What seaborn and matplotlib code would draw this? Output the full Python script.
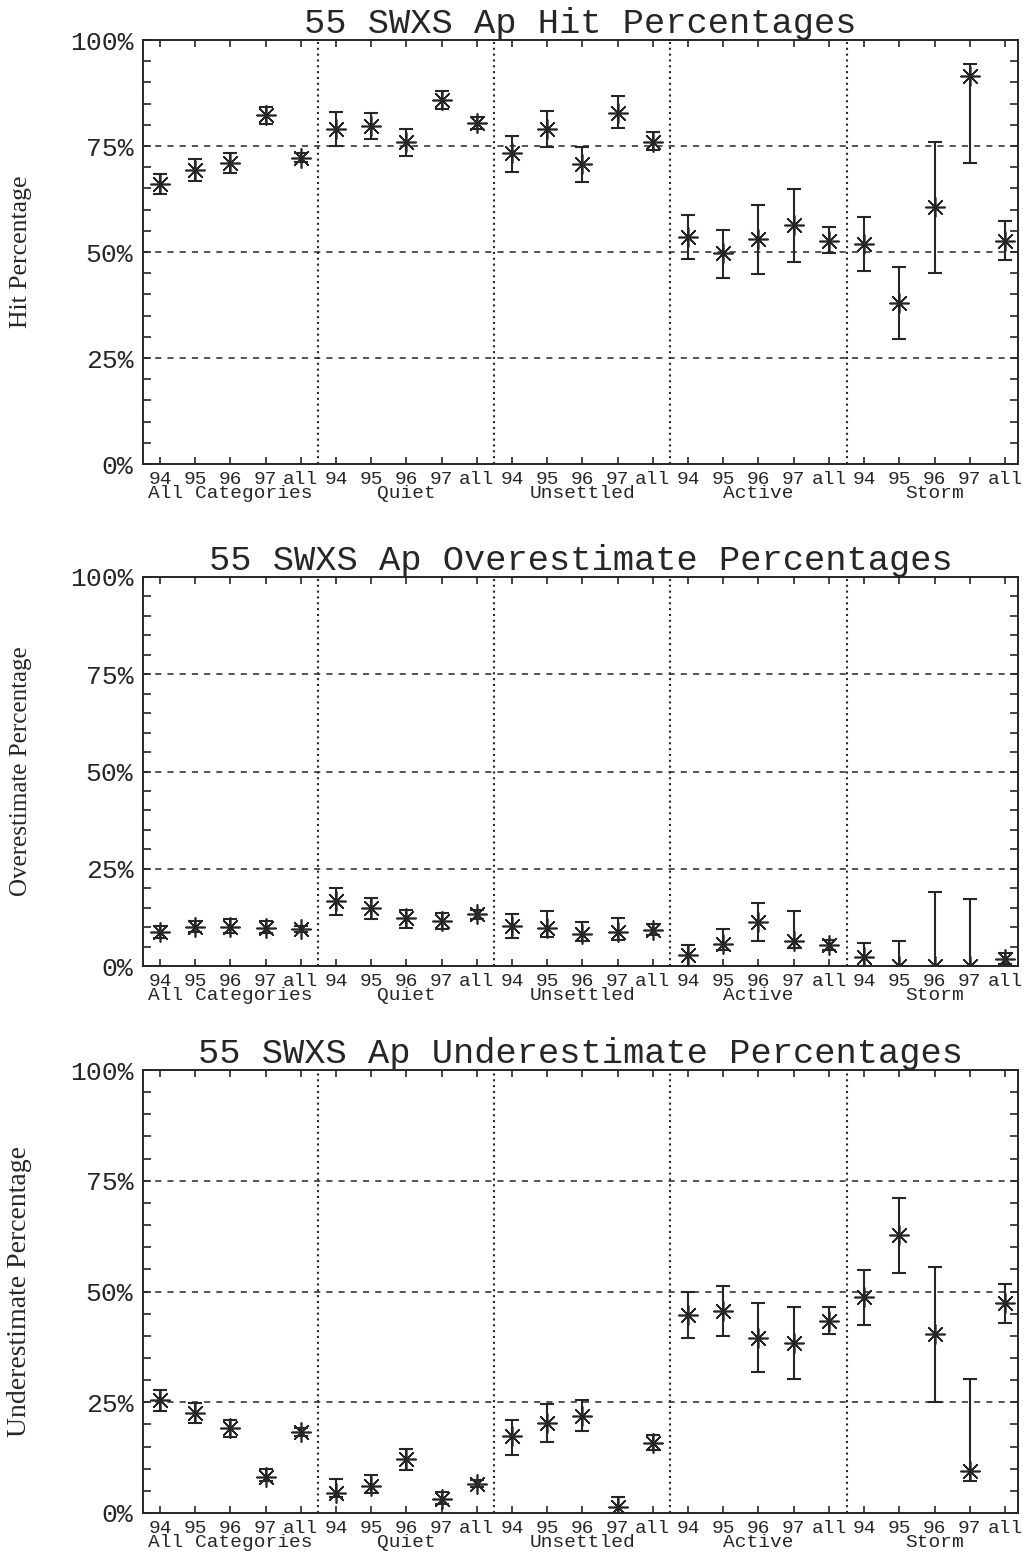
import numpy as np
import pandas as pd
import matplotlib
matplotlib.use("Agg")
import matplotlib.pyplot as plt
import matplotlib.transforms as mtransforms
import seaborn as sns

# ---------------- data ----------------
years = ["94", "95", "96", "97", "all"]
categories = ["All Categories", "Quiet", "Unsettled", "Active", "Storm"]
tick_labels = years * len(categories)

hit_val = [66.0, 69.3, 71.1, 82.3, 72.2,
           79.0, 79.6, 75.9, 85.8, 80.5,
           73.3, 79.0, 70.7, 82.9, 76.0,
           53.6, 49.8, 53.0, 56.4, 52.7,
           52.0, 37.9, 60.5, 91.6, 52.7]
hit_lo = [63.6, 66.8, 68.6, 80.2, 71.2,
          75.1, 76.7, 72.7, 83.7, 79.1,
          68.9, 74.7, 66.6, 79.2, 74.1,
          48.3, 43.9, 44.8, 47.7, 49.7,
          45.6, 29.4, 45.0, 70.9, 48.1]
hit_hi = [68.3, 71.9, 73.4, 84.3, 73.3,
          83.1, 82.7, 79.0, 88.0, 81.9,
          77.4, 83.3, 74.7, 86.8, 78.2,
          58.7, 55.3, 61.1, 64.8, 56.0,
          58.3, 46.4, 76.0, 94.3, 57.4]

over_val = [8.8, 10.1, 10.1, 9.8, 9.6,
            16.7, 15.0, 12.4, 11.5, 13.3,
            10.4, 9.8, 8.1, 8.8, 9.2,
            2.7, 5.6, 11.4, 6.4, 5.4,
            2.2, 0.0, 0.0, 0.0, 1.9]
over_lo = [7.1, 8.7, 8.6, 8.4, 8.7,
           13.1, 12.0, 9.8, 9.4, 12.2,
           7.3, 7.4, 6.4, 6.7, 7.9,
           0.0, 4.1, 6.4, 4.5, 4.1,
           0.0, 0.0, 0.0, 0.0, 0.5]
over_hi = [10.3, 11.5, 12.0, 11.5, 10.4,
           20.1, 17.5, 14.5, 13.5, 14.4,
           13.3, 14.1, 11.4, 12.4, 10.7,
           5.3, 9.6, 16.3, 14.1, 6.8,
           5.8, 6.4, 19.0, 17.1, 3.4]

under_val = [25.4, 22.5, 19.2, 8.2, 18.2,
             4.6, 6.0, 12.2, 3.2, 6.6,
             17.3, 20.3, 22.0, 1.3, 15.7,
             44.8, 45.7, 39.6, 38.3, 43.4,
             48.7, 62.7, 40.4, 9.4, 47.3]
under_lo = [23.1, 20.3, 17.1, 7.2, 17.3,
            3.6, 4.5, 9.7, 2.1, 5.8,
            13.2, 16.0, 18.4, 0.0, 14.3,
            39.6, 39.9, 31.8, 30.3, 40.3,
            42.4, 54.1, 25.0, 7.2, 42.8]
under_hi = [27.8, 24.8, 21.0, 10.0, 19.2,
            7.7, 8.5, 14.5, 4.7, 7.5,
            20.9, 24.6, 25.5, 3.6, 17.5,
            49.8, 51.3, 47.4, 46.6, 46.6,
            54.9, 71.2, 55.6, 30.3, 51.8]

titles = ["55 SWXS Ap Hit Percentages",
          "55 SWXS Ap Overestimate Percentages",
          "55 SWXS Ap Underestimate Percentages"]
ylabels = ["Hit Percentage", "Overestimate Percentage", "Underestimate Percentage"]
ytick_vals = [0, 25, 50, 75, 100]
ytick_text = ["0%", "25%", "50%", "75%", "100%"]

# ---------------- style ----------------
sns.set_theme(style="ticks")
plt.rcParams["font.family"] = ["Liberation Mono", "DejaVu Sans Mono"]
INK = "#262626"

W, H = 1026, 1553
fig = plt.figure(figsize=(W / 100, H / 100), dpi=100)
fig.patch.set_facecolor("white")


def add_axes(l, t, r, b):
    return fig.add_axes([l / W, 1 - b / H, (r - l) / W, (b - t) / H])


boxes = [(143, 40, 1018, 464), (143, 577, 1018, 966), (143, 1070, 1018, 1513)]
series = [(hit_val, hit_lo, hit_hi), (over_val, over_lo, over_hi),
          (under_val, under_lo, under_hi)]
ylabel_sizes = [18.5, 18, 20]

x = np.arange(len(tick_labels))
star = (8, 2, 0)

for box, (val, lo, hi), title, ylab, ysz in zip(boxes, series, titles, ylabels, ylabel_sizes):
    ax = add_axes(*box)
    ax.set_facecolor("white")
    val = np.array(val)
    lo = np.array(lo)
    hi = np.array(hi)
    df = pd.DataFrame({"x": x, "val": val})

    # grid lines
    for g in [25, 50, 75]:
        ax.axhline(g, color=INK, lw=1.1, ls=(0, (4, 4)), zorder=1)
    for d in [4.5, 9.5, 14.5, 19.5]:
        ax.axvline(d, color=INK, lw=1.5, ls=(0, (1, 1.8)), zorder=1)

    ax.errorbar(x, val, yerr=[val - lo, hi - val], fmt="none", ecolor=INK,
                elinewidth=1.5, capsize=5, capthick=1.5, zorder=2)
    sns.scatterplot(data=df, x="x", y="val", marker=star, s=190, color=INK,
                    edgecolor=None, linewidth=1.2, ax=ax, zorder=3, legend=False)

    ax.set_xlim(-0.48, 24.37)
    ax.set_ylim(0, 100)
    ax.set_xticks(x)
    ax.set_xticklabels(tick_labels, fontsize=14, color=INK)
    ax.set_yticks(ytick_vals)
    ax.set_yticklabels(ytick_text, fontsize=19, color=INK)
    ax.set_yticks(np.arange(0, 101, 5), minor=True)
    ax.tick_params(axis="x", which="major", direction="in", length=5, width=1.2,
                   top=True, bottom=True, pad=5, colors=INK)
    ax.tick_params(axis="y", which="both", direction="in", length=6, width=1.2,
                   left=True, right=True, pad=7, colors=INK)
    ax.set_xlabel("")
    ax.set_ylabel(ylab, family=["Liberation Serif", "DejaVu Serif"], fontsize=ysz,
                  color=INK)
    ax.yaxis.set_label_coords((32 - 143) / 875, 0.5)
    ax.set_title(title, fontsize=25.5, color=INK, pad=5)
    for sp in ax.spines.values():
        sp.set_color(INK)
        sp.set_linewidth(1.4)
        sp.set_visible(True)

    tr = mtransforms.blended_transform_factory(ax.transData, ax.transAxes) + \
        mtransforms.ScaledTranslation(0, -21 / 100, fig.dpi_scale_trans)
    for i, cat in enumerate(categories):
        ax.text(i * 5 + 2, 0, cat, transform=tr, ha="center", va="top",
                fontsize=14, color=INK)

fig.savefig("out.png", dpi=100, facecolor="white")
